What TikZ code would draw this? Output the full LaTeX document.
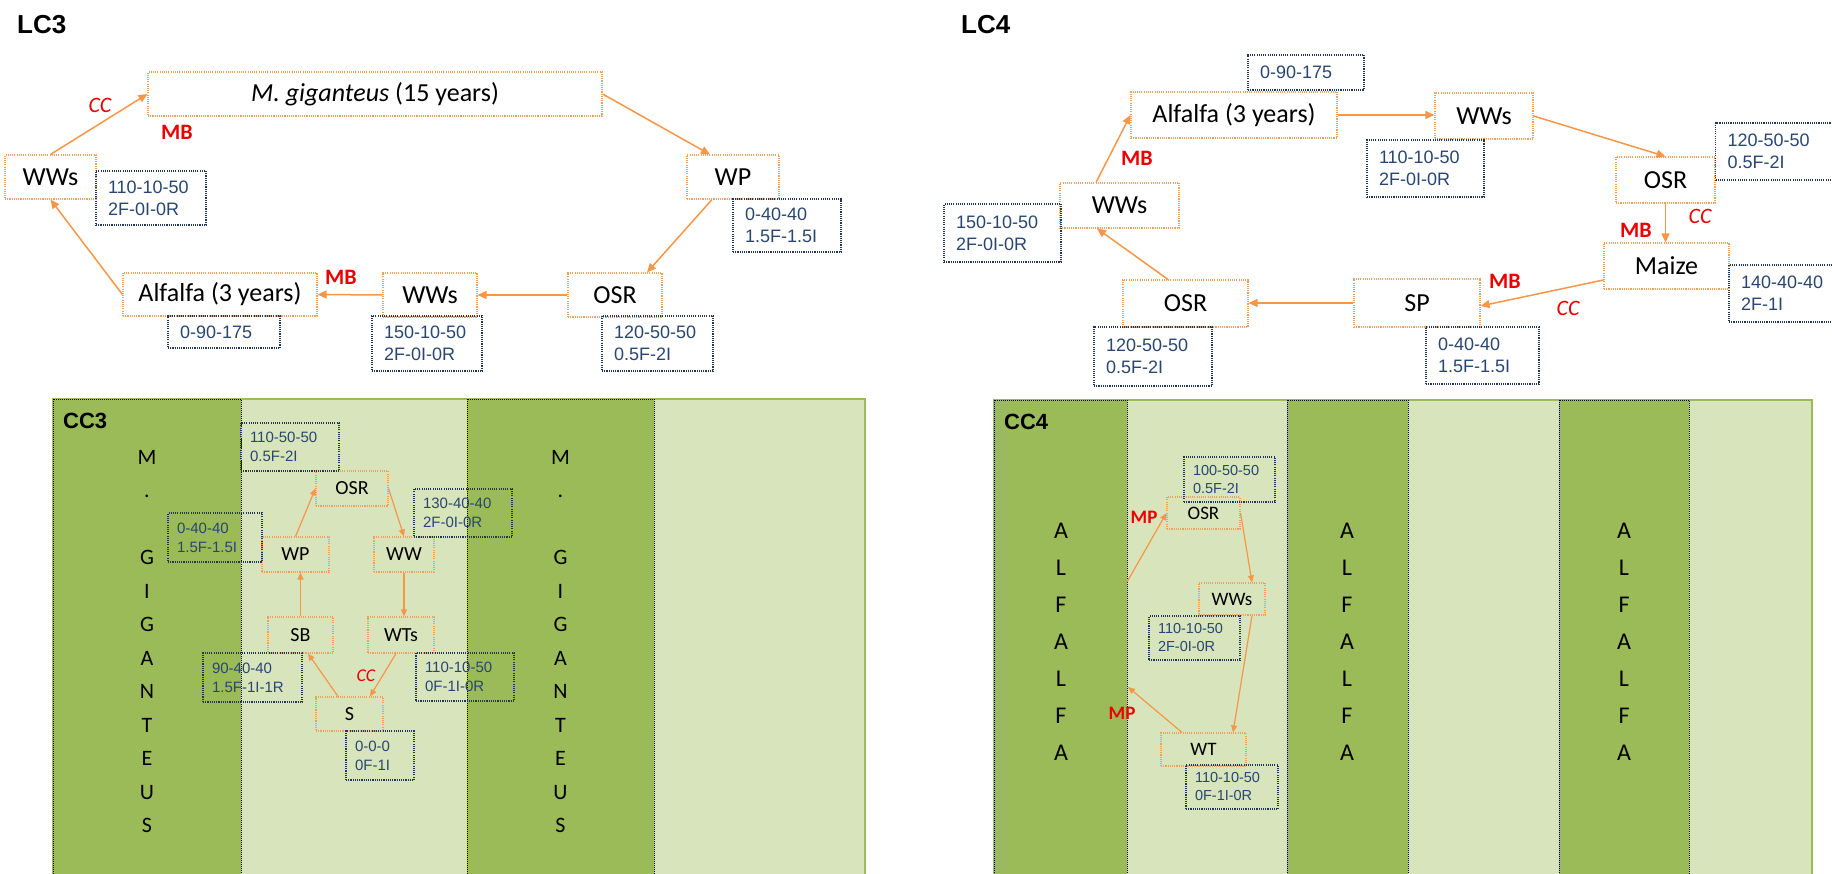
\documentclass[tikz,border=0pt]{standalone}
\usepackage{fontspec}
\setmainfont{Carlito}
\newfontfamily\arialf{Liberation Sans}
\usetikzlibrary{arrows.meta}
\definecolor{arr}{RGB}{247,150,70}
\definecolor{boxor}{RGB}{238,160,95}
\definecolor{labtxt}{RGB}{40,70,112}
\definecolor{labbd}{RGB}{35,55,85}
\definecolor{dkg}{RGB}{155,187,89}
\definecolor{ltg}{RGB}{216,228,188}
\definecolor{mbred}{RGB}{235,0,0}
\begin{document}
\begin{tikzpicture}[x=1pt,y=-1pt,
 crop/.style={draw=boxor, line width=1.1pt, dash pattern=on 1.1pt off 1.1pt, inner sep=0pt, text=black},
 cropbig/.style={crop, font=\fontsize{26}{30}\selectfont},
 cropsm/.style={crop, font=\fontsize{20}{24}\selectfont},
 cropxs/.style={crop, font=\fontsize{19}{23}\selectfont},
 lab/.style={draw=labbd, line width=1.1pt, dash pattern=on 1.1pt off 1.1pt, inner ysep=0pt, align=left, text=labtxt},
 labbig/.style={lab, inner xsep=12pt, font=\arialf\fontsize{18}{22}\selectfont},
 labsm/.style={lab, inner xsep=9pt, font=\arialf\fontsize{15}{19}\selectfont},
 labxs/.style={lab, inner xsep=9pt, font=\arialf\fontsize{14.5}{18}\selectfont},
 flow/.style={draw=arr, line width=1.5pt, -{Triangle[length=9pt,width=8pt]}},
 flowsm/.style={draw=arr, line width=1.2pt, -{Triangle[length=7pt,width=6pt]}},
 mb/.style={text=mbred, font=\bfseries\fontsize{22}{26}\selectfont, inner sep=0pt},
 cc/.style={text=mbred, font=\itshape\fontsize{22}{26}\selectfont, inner sep=0pt},
 mbsm/.style={text=mbred, font=\bfseries\fontsize{19}{22}\selectfont, inner sep=0pt},
 ccsm/.style={text=mbred, font=\itshape\fontsize{18}{22}\selectfont, inner sep=0pt},
 ttl/.style={font=\arialf\bfseries\fontsize{26}{30}\selectfont, inner sep=0pt, anchor=west},
 ttlsm/.style={font=\arialf\bfseries\fontsize{22}{26}\selectfont, inner sep=0pt, anchor=west},
 column/.style={fill=dkg, draw=black, line width=0.9pt, dash pattern=on 1pt off 1pt},
 letters/.style={align=center, inner sep=0pt, text=black},
]
\useasboundingbox (0,0) rectangle (1832,874);

% ---------------- LC3 ----------------
\node[ttl] (lc3) at (17,25) {LC3};
\node[cropbig, minimum width=454, minimum height=44] (mg) at (375,94) {\textit{M. giganteus} (15 years)};
\node[cropbig, minimum width=92, minimum height=44] (wp) at (733,177) {WP};
\node[cropbig, minimum width=94, minimum height=44] (osr3) at (615,295) {OSR};
\node[cropbig, minimum width=94, minimum height=44] (ww3b) at (430,295) {WWs};
\node[cropbig, minimum width=194, minimum height=43] (alf3) at (220,294.5) {Alfalfa (3 years)};
\node[cropbig, minimum width=91, minimum height=44] (ww3a) at (50.5,177) {WWs};

\node[labbig, text width=86, minimum height=54] (lww3a) at (151,198) {110-10-50\\2F-0I-0R};
\node[labbig, text width=84, minimum height=53] (lwp) at (787,225.5) {0-40-40\\1.5F-1.5I};
\node[labbig, text width=87, minimum height=55] (losr3) at (657.5,343.5) {120-50-50\\0.5F-2I};
\node[labbig, text width=86, minimum height=55] (lww3b) at (427,343.5) {150-10-50\\2F-0I-0R};
\node[labbig, text width=88, minimum height=32] (lalf3) at (224,332) {0-90-175};

\draw[flow] (ww3a.north) -- (mg.west);
\draw[flow] (alf3.west) -- (ww3a.south);
\draw[flow] (mg.east) -- ([xshift=-23pt]wp.north);
\draw[flow] ([xshift=-21pt]wp.south) -- ([xshift=32pt]osr3.north);
\draw[flow] (osr3.west) -- (ww3b.east);
\draw[flow] (ww3b.west) -- (alf3.east);

\node[cc] (cc3a) at (100,105) {CC};
\node[mb] (mb3a) at (177,132) {MB};
\node[mb] (mb3b) at (341,277) {MB};

% ---------------- LC4 ----------------
\node[ttl] (lc4) at (961,25) {LC4};
\node[cropbig, minimum width=206, minimum height=46] (alf4) at (1234,115) {Alfalfa (3 years)};
\node[cropbig, minimum width=98, minimum height=46] (ww4a) at (1484,116) {WWs};
\node[cropbig, minimum width=99, minimum height=46] (osr4a) at (1665.5,180) {OSR};
\node[cropbig, minimum width=125, minimum height=46] (maize) at (1666.5,266) {Maize};
\node[cropbig, minimum width=126, minimum height=48] (sp) at (1417,303) {SP};
\node[cropbig, minimum width=125, minimum height=47] (osr4b) at (1185.5,303.5) {OSR};
\node[cropbig, minimum width=119, minimum height=45] (ww4b) at (1119.5,205.5) {WWs};

\node[labbig, text width=92, minimum height=35] (lalf4) at (1306,72.5) {0-90-175};
\node[labbig, text width=93, minimum height=57] (lww4a) at (1425.5,168.5) {110-10-50\\2F-0I-0R};
\node[labbig, text width=93, minimum height=57] (losr4a) at (1774,151.5) {120-50-50\\0.5F-2I};
\node[labbig, text width=87, minimum height=57] (lmaize) at (1784.5,293.5) {140-40-40\\2F-1I};
\node[labbig, text width=89, minimum height=57] (lsp) at (1482.5,355.5) {0-40-40\\1.5F-1.5I};
\node[labbig, text width=94, minimum height=59] (losr4b) at (1153,356.5) {120-50-50\\0.5F-2I};
\node[labbig, text width=93, minimum height=58] (lww4b) at (1002.5,233) {150-10-50\\2F-0I-0R};

\draw[flow] ([xshift=-23.5pt]ww4b.north) -- (alf4.west);
\draw[flow] (alf4.east) -- (alf4.east -| ww4a.west);
\draw[flow] (ww4a.east) -- (osr4a.north);
\draw[flow] (osr4a.south) -- (osr4a.south |- maize.north);
\draw[flow] ([yshift=-14pt]maize.west) -- ([yshift=-3pt]sp.east);
\draw[flow] (sp.west) -- (sp.west -| osr4b.east);
\draw[flow] ([xshift=-17.5pt]osr4b.north) -- ([xshift=-22.5pt]ww4b.south);

\node[mb] (mb4a) at (1137,158) {MB};
\node[mb] (mb4b) at (1636,230) {MB};
\node[cc] (cc4a) at (1700,216) {CC};
\node[mb] (mb4c) at (1505,281) {MB};
\node[cc] (cc4b) at (1568,308) {CC};

% ---------------- CC3 panel ----------------
\fill[ltg] (53,399) rectangle (865,880);
\draw[dkg, line width=2pt] (53,399) rectangle (865,880);
\draw[column] (53,399) rectangle (241,880);
\draw[column] (467,399) rectangle (654,880);
\node[ttlsm] (cc3t) at (63,421) {CC3};
\node[letters, font=\fontsize{22}{33.5}\selectfont] (mgl1) at (147,641.5) {M\\.\\\mbox{}\\G\\I\\G\\A\\N\\T\\E\\U\\S};
\node[letters, font=\fontsize{22}{33.5}\selectfont] (mgl2) at (560.5,641.5) {M\\.\\\mbox{}\\G\\I\\G\\A\\N\\T\\E\\U\\S};

\node[cropsm, minimum width=72, minimum height=35] (c3osr) at (352,488.5) {OSR};
\node[cropsm, minimum width=67, minimum height=35] (c3wp) at (295.5,554.5) {WP};
\node[cropsm, minimum width=60, minimum height=35] (c3ww) at (404,554.5) {WW};
\node[cropsm, minimum width=65, minimum height=36] (c3sb) at (300.5,635) {SB};
\node[cropsm, minimum width=66, minimum height=36] (c3wts) at (401,635) {WTs};
\node[cropsm, minimum width=67, minimum height=34] (c3s) at (349.5,714) {S};

\node[labsm, text width=80, minimum height=48] (l3osr) at (290,447) {110-50-50\\0.5F-2I};
\node[labsm, text width=80, minimum height=48] (l3ww) at (463,513) {130-40-40\\2F-0I-0R};
\node[labsm, text width=76, minimum height=49] (l3wp) at (215,537.5) {0-40-40\\1.5F-1.5I};
\node[labsm, text width=81, minimum height=49] (l3sb) at (252.5,677.5) {90-40-40\\1.5F-1I-1R};
\node[labsm, text width=80, minimum height=48] (l3wts) at (465,677) {110-10-50\\0F-1I-0R};
\node[labsm, text width=50, minimum height=49] (l3s) at (380,755.5) {0-0-0\\0F-1I};

\draw[flowsm] (c3sb.north) -- (c3sb.north |- c3wp.south);
\draw[flowsm] (c3wp.north) -- (c3osr.west);
\draw[flowsm] (c3osr.east) -- (c3ww.north);
\draw[flowsm] (c3ww.south) -- (c3ww.south |- c3wts.north);
\draw[flowsm] ([xshift=-5pt]c3wts.south) -- ([xshift=20.5pt]c3s.north);
\draw[flowsm] ([xshift=-11.5pt]c3s.north) -- ([xshift=7.5pt]c3sb.south);
\node[ccsm] (cc3c) at (366,676) {CC};

% ---------------- CC4 panel ----------------
\fill[ltg] (994,400) rectangle (1812,880);
\draw[dkg, line width=2pt] (994,400) rectangle (1812,880);
\draw[column] (994,400) rectangle (1127,880);
\draw[column] (1287,400) rectangle (1408,880);
\draw[column] (1559,400) rectangle (1689,880);
\node[ttlsm] (cc4t) at (1004,422) {CC4};
\node[letters, font=\fontsize{24}{37}\selectfont] (alfl1) at (1061,642) {A\\L\\F\\A\\L\\F\\A};
\node[letters, font=\fontsize{24}{37}\selectfont] (alfl2) at (1347,642) {A\\L\\F\\A\\L\\F\\A};
\node[letters, font=\fontsize{24}{37}\selectfont] (alfl3) at (1624,642) {A\\L\\F\\A\\L\\F\\A};

\node[cropxs, minimum width=73, minimum height=32] (c4osr) at (1203.5,513) {OSR};
\node[cropxs, minimum width=66, minimum height=32] (c4wws) at (1232,599) {WWs};
\node[cropxs, minimum width=85, minimum height=33] (c4wt) at (1203.5,749.5) {WT};

\node[labxs, text width=73, minimum height=45] (l4osr) at (1229.5,479.5) {100-50-50\\0.5F-2I};
\node[labxs, text width=73, minimum height=44] (l4wws) at (1194.5,638) {110-10-50\\2F-0I-0R};
\node[labxs, text width=74, minimum height=44] (l4wt) at (1232,787) {110-10-50\\0F-1I-0R};

\coordinate (b1) at (1127,582);
\coordinate (b2) at (1128,687);
\draw[flowsm] (b1) -- (c4osr.west);
\draw[flowsm] (c4osr.east) -- ([xshift=20pt]c4wws.north);
\draw[flowsm] ([xshift=20pt]c4wws.south) -- ([xshift=29.5pt]c4wt.north);
\draw[flowsm] ([xshift=-21.5pt]c4wt.north) -- (b2);
\node[mbsm] (mp1) at (1144,517) {MP};
\node[mbsm] (mp2) at (1122,713) {MP};
\end{tikzpicture}
\end{document}
